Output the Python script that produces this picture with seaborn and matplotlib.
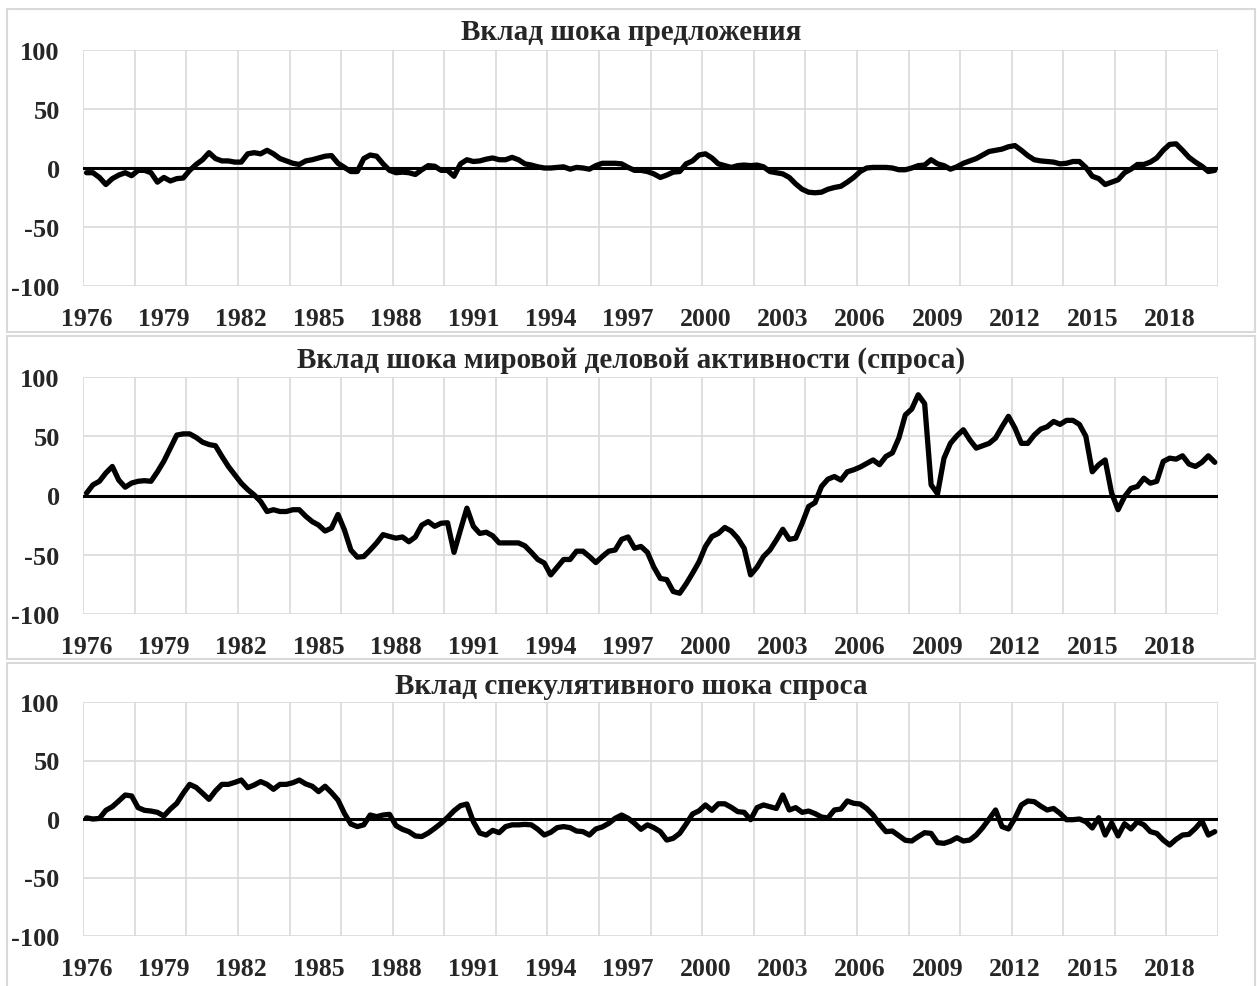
import numpy as np
import pandas as pd
import matplotlib
matplotlib.use('Agg')
import matplotlib.pyplot as plt
from matplotlib.patches import Rectangle
import seaborn as sns

# квартальные данные 1976Q1 - 2019Q4
supply = [-4, -4, -8, -14, -9, -6, -4, -6.5, -2, -2, -4, -12, -8, -11, -9, -8.5,
          -2, 3, 7, 13, 8, 6, 6, 5, 5, 12, 13, 12, 15, 12, 8, 6,
          4, 3, 6, 7, 8.5, 10, 10.5, 4, 0.5, -3, -3, 8, 11, 10, 3.5, -2,
          -4, -3.5, -4, -5.5, -1.5, 2, 1.5, -2, -2, -7, 3.5, 7, 5.5, 6,
          7.5, 8.5, 7, 7, 9, 7, 3.5, 2.5, 1, 0, 0, 0.5, 1, -1, 0.5, 0,
          -1, 2, 4, 4, 4, 3.5, 0.5, -2, -2, -3, -5, -8, -6, -3.5, -3, 3.5,
          6, 11, 12, 8.5, 3.5, 2, 0.5, 2, 2.5, 2, 2.5, 1, -3, -4, -5, -8,
          -13.5, -18, -20.5, -21, -20.5, -18, -16.5, -15.5, -12, -8, -3, 0, 0.5, 0.5, 0.5, 0,
          -1.5, -1.5, 0, 2, 2.5, 7, 3.5, 2, -1, 1, 4, 6, 8, 11, 14, 15,
          16, 18, 19, 15, 10.5, 7, 6, 5.5, 5, 3.5, 4, 5.5, 5.5, 0.5, -7, -9,
          -14, -12, -10, -4, -1, 3, 3, 5, 8.5, 15, 20, 20.5, 15, 9, 5, 1.5,
          -3, -2]

activity = [2, 9, 12, 19, 24.5, 13, 7, 10.5, 12, 12.5, 12, 20, 29, 40, 51, 52,
            52, 49, 45, 43, 42, 33, 24.5, 17.5, 10.4, 5, 0.5, -5, -13.5, -12, -13.5, -13.5,
            -12, -12, -17.5, -22, -25, -30, -27.5, -16, -29, -46, -52, -51.5, -46, -40, -33, -34.6,
            -36, -35, -39, -35, -25, -22, -26, -23.4, -23, -48, -29, -10.7, -26, -32, -31, -34,
            -40, -40, -40, -40, -42.5, -48, -54, -57, -67, -60.5, -54, -54, -47, -47, -51.5, -56.6,
            -51.5, -47, -46, -37, -35, -44.5, -43, -48, -60.5, -70, -71, -81, -82.5, -74.6, -65.6, -56,
            -43, -34.6, -32, -27, -30, -36, -44.5, -67, -60.5, -51.5, -46, -37.5, -28.5, -37, -36, -23.4,
            -9.3, -6, 7.6, 13.8, 16, 13, 20, 21.7, 24, 27, 30, 26, 33, 36, 48.5, 68,
            73, 85, 77.5, 9, 1.5, 31.5, 44, 50.4, 55.5, 47, 40, 42, 44, 48.5, 58, 66.8,
            57, 44, 44, 51, 56, 58, 62.5, 60, 63.4, 63.4, 60, 50, 20, 26, 30, 2,
            -12, -1, 6, 7.6, 14.6, 10.4, 12, 28.7, 31.5, 30.7, 33.5, 26.5, 24.5, 28, 33.5, 28]

speculative = [1, 0, 0.5, 7.4, 10.5, 15.4, 20.5, 19.7, 9.7, 7.4, 6.8, 5.7, 2.6, 8.5, 13.4, 22,
               29.6, 27, 22, 16.8, 24, 29.6, 29.6, 31.3, 33.3, 26.8, 29, 32, 29.6, 25.4, 29.6, 29.6,
               31, 33.3, 30, 28, 23.4, 28, 22.5, 16.2, 4.8, -4.3, -6.5, -5, 3.4, 2, 3.4, 4,
               -5.7, -8.8, -10.8, -14.5, -15, -12, -8, -3.7, 1.4, 7, 11.4, 12.8, -2.3, -12, -13.7, -9.7,
               -11.7, -6.5, -5, -5, -4.6, -5, -8.8, -13.7, -11.4, -7.4, -6.5, -7.4, -10.3, -10.8, -13.7, -8.5,
               -6.8, -3.7, 0.6, 3.4, 0.6, -3.7, -8.8, -5, -7.4, -10.8, -18, -16.5, -12.3, -4.3, 4.3, 7,
               12, 7.4, 13, 13, 10, 6.3, 5.7, -0.6, 9.7, 12, 10.5, 9, 20.5, 7.7, 9.7, 5.7,
               6.8, 4.6, 1.7, 0.9, 7.7, 8.5, 15.4, 13.4, 12.8, 9, 3.4, -4.3, -10.8, -10.3, -14.2, -18.2,
               -18.8, -15.1, -11.7, -12.3, -20.2, -20.8, -19, -16, -18.8, -18, -13.7, -7.4, 0, 7.7, -6.5, -8.5,
               0.6, 12, 15.4, 14.8, 11, 7.7, 9, 4.8, -0.6, -0.6, 0, -2.3, -7.7, 1.1, -13.7, -3.4,
               -14.5, -4, -8.5, -2.3, -5, -10.8, -12.3, -18, -22.2, -17.4, -13.7, -13.1, -8, -1.7, -13.7, -10.8]

titles = ["Вклад шока предложения",
          "Вклад шока мировой деловой активности (спроса)",
          "Вклад спекулятивного шока спроса"]

year_labels = list(range(1976, 2019, 3))
y_ticks = [-100, -50, 0, 50, 100]

t = 1976 + np.arange(len(supply)) / 4.0
series = [supply, activity, speculative]

sns.set_style("white")
plt.rcParams['font.family'] = ['Liberation Serif', 'DejaVu Serif']
plt.rcParams['font.weight'] = 'bold'
plt.rcParams['axes.unicode_minus'] = False

W, H = 1257, 987
fig = plt.figure(figsize=(W / 100, H / 100), dpi=100)

# рамки (пиксели: верх, низ) для трёх диаграмм
frames = [(10, 333), (337, 660), (664, 995)]
plots = [(51, 287), (378, 615), (703, 937)]
title_y = [32, 360, 687]

for k in range(3):
    top, bot = frames[k]
    fig.patches.append(Rectangle((7 / W, 1 - bot / H), (1255 - 7) / W, (bot - top) / H,
                                 transform=fig.transFigure, fill=False,
                                 edgecolor='#d9d9d9', linewidth=1.5, zorder=0))
    ptop, pbot = plots[k]
    ax = fig.add_axes([83.3 / W, 1 - pbot / H, (1218 - 83.3) / W, (pbot - ptop) / H])
    df = pd.DataFrame({"t": t, "v": series[k]})
    sns.lineplot(data=df, x="t", y="v", ax=ax, color='black', linewidth=3.8,
                 solid_joinstyle='round', solid_capstyle='round', zorder=4)
    ax.axhline(0, color='black', linewidth=2.2, zorder=3)
    ax.set_xlim(1975.875, 2019.875)
    ax.set_ylim(-100, 100)
    ax.set_xticks(year_labels)
    ax.set_xticklabels([str(y) for y in year_labels])
    ax.set_xticks(np.arange(1975.875, 2020, 2), minor=True)
    ax.set_yticks(y_ticks)
    ax.grid(False)
    ax.grid(True, which='minor', axis='x', color='#d9d9d9', linewidth=1.2)
    ax.grid(True, which='major', axis='y', color='#d9d9d9', linewidth=1.2)
    ax.tick_params(axis='both', which='both', length=0)
    ax.tick_params(axis='x', labelsize=18.5, pad=15)
    ax.tick_params(axis='y', labelsize=19, pad=17)
    for lab in ax.get_xticklabels() + ax.get_yticklabels():
        lab.set_fontweight('bold')
    for s in ax.spines.values():
        s.set_visible(False)
    ax.set_xlabel("")
    ax.set_ylabel("")
    fig.text(631 / W, 1 - title_y[k] / H, titles[k], ha='center', va='center',
             fontsize=21, fontweight='bold')

fig.savefig("out.png", dpi=100)
